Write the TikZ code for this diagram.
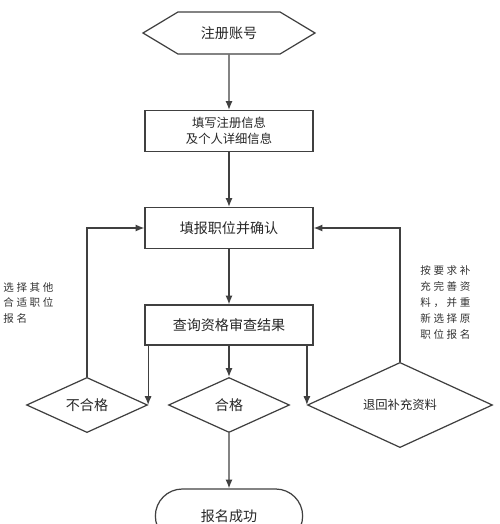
\documentclass[tikz,border=0pt]{standalone}
\usepackage{fontspec}
\setmainfont{Noto Sans CJK SC}
\newfontfamily\sidefont[LetterSpace=25]{Noto Sans CJK SC}
\usetikzlibrary{shapes, shapes.symbols, shapes.misc, shapes.geometric, arrows, arrows.meta, positioning}

\begin{document}
\begin{tikzpicture}[node distance=2cm, auto, thin, >=latex']

    % Define block styles
    \tikzstyle{block} = [rectangle, draw=black!75, line width=0.7pt, text=black!85,
        minimum width=3.36cm, minimum height=0.82cm, font=\fontsize{8}{10}\selectfont]
    \tikzstyle{start} = [signal, signal to=west and east, signal pointer angle=62,
        draw=black!75, line width=0.7pt, text=black!85, inner sep=0pt,
        minimum width=3.44cm, minimum height=0.84cm, font=\fontsize{8}{10}\selectfont]
    \tikzstyle{decision} = [diamond, draw=black!75, line width=0.7pt, text=black!85,
        inner sep=0pt, minimum width=2.42cm, minimum height=1.1cm, font=\fontsize{8}{10}\selectfont]
    \tikzstyle{stop} = [rounded rectangle, draw=black!75, line width=0.7pt, text=black!85,
        minimum width=3.18cm, minimum height=1.08cm, font=\fontsize{8}{10}\selectfont]
    \tikzstyle{note} = [align=left, anchor=west, inner sep=0pt, text=black!80,
        font=\sidefont\fontsize{6}{9.1}\selectfont]
    \tikzstyle{line} = [draw=black!75, line width=0.7pt, -{Latex[length=5pt, width=4pt]}]

    \useasboundingbox (0,0) rectangle (10,-10.48);

    % Define nodes
    \node [start] (account) at (4.58,-0.66) {注册账号};
    \node [block, below of=account, node distance=1.96cm, align=center,
        font=\fontsize{7}{9}\selectfont] (info) {填写注册信息\\及个人详细信息};
    \node [block, below of=info, node distance=1.94cm] (apply) {填报职位并确认};
    \node [block, below of=apply, node distance=1.94cm, minimum height=0.8cm] (query) {查询资格审查结果};
    \node [decision, below of=query, node distance=1.6cm] (pass) {合格};
    \node [decision, left of=pass, node distance=2.84cm] (fail) {不合格};
    \node [decision, right of=pass, node distance=3.42cm, minimum width=3.7cm,
        font=\fontsize{7}{9}\selectfont] (back) {退回补充资料};
    \node [stop, below of=pass, node distance=2.22cm] (success) {报名成功};
    \node [note] (failnote) at (0.06,-6.06) {选择其他\\合适职位\\报名};
    \node [note] (backnote) at (8.4,-6.05) {按要求补\\充完善资\\料，并重\\新选择原\\职位报名};

    % Draw edges
    \path [line] (account) -- (info);
    \path [line] (info) -- (apply);
    \path [line] (apply) -- (query);
    \path [line] (query) -- (pass);
    \path [line] (query.south -| fail.east) -- (fail.east);
    \path [line] (query.south -| back.west) -- (back.west);
    \path [line] (pass) -- (success);
    \path [line] (fail.north) |- (apply.west);
    \path [line] (back.north) |- (apply.east);

\end{tikzpicture}
\end{document}
